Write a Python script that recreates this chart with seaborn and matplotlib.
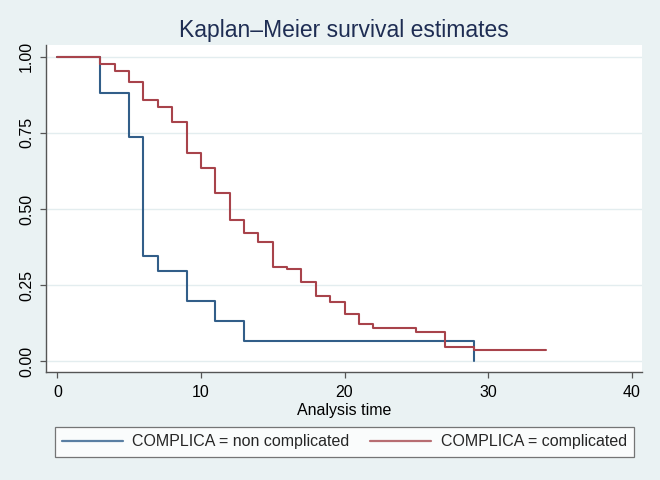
import numpy as np
import pandas as pd
import matplotlib
matplotlib.use("Agg")
import matplotlib.pyplot as plt
import seaborn as sns
from matplotlib.lines import Line2D

# Data (Kaplan-Meier step functions)
time_non = [0, 3, 5, 6, 7, 9, 11, 13, 29]
surv_non = [1.0, 0.882, 0.735, 0.345, 0.297, 0.198, 0.132, 0.066, 0.0]

time_comp = [0, 3, 4, 5, 6, 7, 8, 9, 10, 11, 12, 13, 14, 15, 16, 17, 18, 19,
             20, 21, 22, 25, 27, 29, 34]
surv_comp = [1.0, 0.975, 0.952, 0.915, 0.858, 0.835, 0.787, 0.685, 0.636, 0.551,
             0.463, 0.421, 0.391, 0.310, 0.302, 0.260, 0.216, 0.196, 0.154,
             0.122, 0.109, 0.096, 0.048, 0.038, 0.038]

labels = ["COMPLICA = non complicated", "COMPLICA = complicated"]
x_ticks = [0, 10, 20, 30, 40]
y_ticks = [0.0, 0.25, 0.50, 0.75, 1.0]

df = pd.concat([
    pd.DataFrame({"time": time_non, "surv": surv_non, "group": labels[0]}),
    pd.DataFrame({"time": time_comp, "surv": surv_comp, "group": labels[1]}),
], ignore_index=True)

sns.set_theme(style="white")
plt.rcParams["font.family"] = ["Liberation Sans", "DejaVu Sans"]

bg = "#EAF2F3"
fig = plt.figure(figsize=(6.6, 4.8), dpi=100, facecolor=bg)
ax = fig.add_axes([0.0697, 0.2256, 0.9026, 0.68])
ax.set_facecolor("white")

palette = {labels[0]: "#325e89", labels[1]: "#a8434b"}
sns.lineplot(data=df, x="time", y="surv", hue="group", palette=palette,
             drawstyle="steps-post", linewidth=1.5, estimator=None,
             ax=ax, legend=False)

ax.set_xlim(-0.79, 40.7)
ax.set_ylim(-0.034, 1.037)
ax.set_xticks(x_ticks)
ax.set_xticklabels([str(t) for t in x_ticks])
ax.set_yticks(y_ticks)
ax.set_yticklabels([f"{v:.2f}" for v in y_ticks], rotation=90, va="center")

ax.grid(False)
for v in y_ticks:
    ax.axhline(v, color="#E3EDEF", lw=1.0, zorder=0)

for s in ["top", "right"]:
    ax.spines[s].set_visible(False)
for s in ["left", "bottom"]:
    ax.spines[s].set_color("#555555")
    ax.spines[s].set_linewidth(1.0)

ax.tick_params(axis="both", which="major", direction="out", length=4.5,
               width=0.9, color="#555555", labelsize=11.5, labelcolor="black",
               left=True, bottom=True)
ax.tick_params(axis="y", pad=4)
ax.tick_params(axis="x", pad=5)

ax.set_xlabel("Analysis time", fontsize=11.5, color="black", labelpad=2)
ax.set_ylabel("")
fig.text(0.521, 0.9375, "Kaplan\u2013Meier survival estimates", ha="center",
         va="center", fontsize=16.5, color="#1e2d53")

handles = [Line2D([0], [0], color="#5a7fa3", lw=1.6),
           Line2D([0], [0], color="#b76d72", lw=1.6)]
leg = fig.legend(handles, labels, loc="center", bbox_to_anchor=(0.5217, 0.0792),
                 ncol=2, fontsize=11.5, frameon=True, fancybox=False,
                 handlelength=3.8, handletextpad=0.6, columnspacing=1.3,
                 borderpad=0.45, borderaxespad=0)
leg.get_frame().set_edgecolor("#555555")
leg.get_frame().set_linewidth(0.9)
leg.get_frame().set_facecolor("white")

fig.savefig("out.png", dpi=100, facecolor=bg)
